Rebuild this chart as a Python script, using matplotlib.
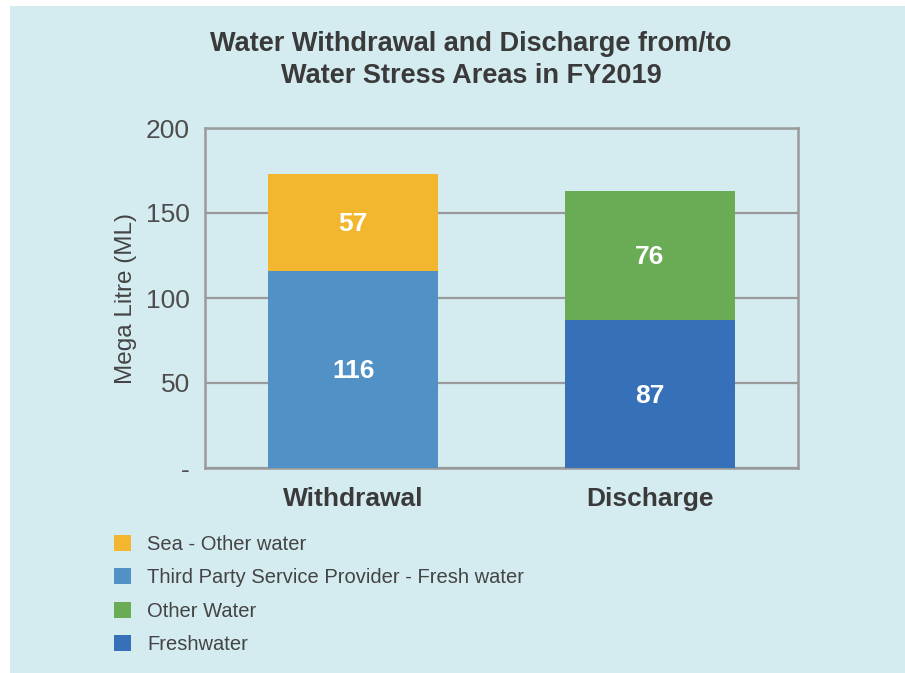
import numpy as np
import matplotlib.pyplot as plt
from matplotlib.patches import Rectangle, Patch

# Chart data
categories = ['Withdrawal', 'Discharge']
bottom_labels = ['Third Party Service Provider - Fresh water', 'Freshwater']
bottom_values = [116, 87]
top_labels = ['Sea - Other water', 'Other Water']
top_values = [57, 76]
yticks = [0, 50, 100, 150, 200]
ytick_labels = ['-', '50', '100', '150', '200']

legend_order = ['Sea - Other water', 'Third Party Service Provider - Fresh water',
                'Other Water', 'Freshwater']
colors = {'Sea - Other water': '#F3B72F',
          'Third Party Service Provider - Fresh water': '#5191C6',
          'Other Water': '#6AAB55',
          'Freshwater': '#3570B8'}

plt.rcParams['font.family'] = ['Liberation Sans', 'DejaVu Sans']

fig = plt.figure(figsize=(9.05, 6.73), dpi=100, facecolor='white')
# light blue panel behind the chart
fig.patches.append(Rectangle((10 / 905, 0), 1, (673 - 6) / 673, transform=fig.transFigure,
                             facecolor='#D4ECF0', edgecolor='none', zorder=-10))

ax = fig.add_axes([205 / 905, (673 - 468) / 673, 593 / 905, 340 / 673])
ax.set_facecolor('none')

x = np.arange(len(categories))
w = 0.575
bot_colors = [colors[l] for l in bottom_labels]
top_colors = [colors[l] for l in top_labels]
ax.bar(x, bottom_values, width=w, color=bot_colors, zorder=3)
ax.bar(x, top_values, width=w, bottom=bottom_values, color=top_colors, zorder=3)

for i in range(len(categories)):
    ax.text(x[i], bottom_values[i] / 2 - 1, str(bottom_values[i]), ha='center', va='center',
            color='white', fontsize=19, fontweight='bold', zorder=4)
    ax.text(x[i], bottom_values[i] + top_values[i] / 2 - 1, str(top_values[i]), ha='center',
            va='center', color='white', fontsize=19, fontweight='bold', zorder=4)

ax.set_xlim(-0.5, 1.5)
ax.set_ylim(0, 200)
ax.set_yticks(yticks)
ax.set_yticklabels(ytick_labels)
ax.set_xticks(x)
ax.set_xticklabels(categories, fontsize=19, fontweight='bold', color='#3a3a3a')
ax.tick_params(axis='y', length=0, pad=11, labelsize=19, labelcolor='#4d4d4d')
ax.tick_params(axis='x', length=0, pad=14)
ax.grid(axis='y', color='#9a9a9c', linewidth=1.6, zorder=1)
ax.set_axisbelow(True)
for s in ax.spines.values():
    s.set_color('#9a9a9c')
    s.set_linewidth(1.8)
ax.set_ylabel('Mega Litre (ML)', fontsize=17.5, color='#444444', labelpad=6)

fig.text(471 / 905, (673 - 31) / 673,
         'Water Withdrawal and Discharge from/to\nWater Stress Areas in FY2019',
         ha='center', va='top', fontsize=19.5, fontweight='bold', color='#3a3a3a',
         linespacing=1.3)

handles = [Patch(facecolor=colors[l], edgecolor='none') for l in legend_order]
fig.legend(handles, legend_order, loc='upper left', bbox_to_anchor=(106 / 905, (673 - 527) / 673),
           frameon=False, fontsize=14.5, handlelength=0.85, handleheight=0.85,
           handletextpad=0.8, labelspacing=0.71, labelcolor='#444444', borderaxespad=0)

fig.savefig('out.png', dpi=100, facecolor=fig.get_facecolor())
